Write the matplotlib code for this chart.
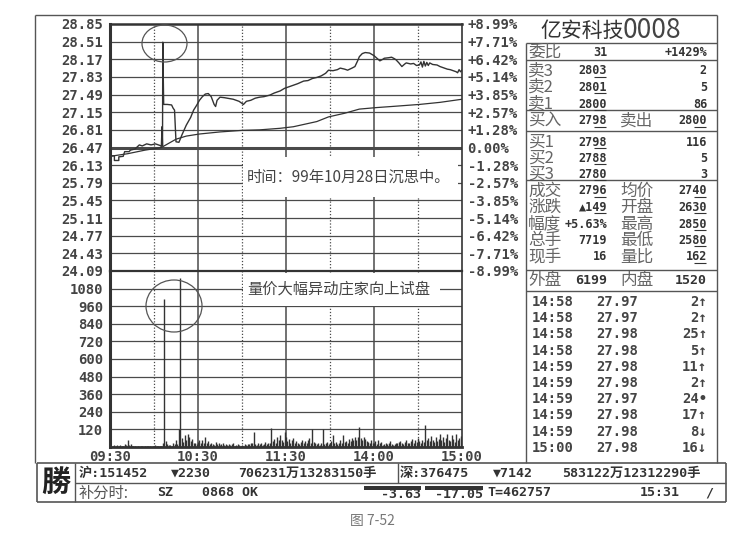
import matplotlib
matplotlib.use('Agg')
import matplotlib.pyplot as plt
from matplotlib.patches import Ellipse, Rectangle

plt.rcParams['font.family'] = ['Noto Sans CJK SC', 'DejaVu Sans']

W, H = 740, 537
INK = '#333333'
GRID = '#4a4a4a'
MONO = 'DejaVu Sans Mono'
MIX = [MONO, 'Noto Sans CJK SC']

# chart data, time = minutes after 09:30 (0..240)
price_levels = [28.85, 28.51, 28.17, 27.83, 27.49, 27.15, 26.81, 26.47,
                26.13, 25.79, 25.45, 25.11, 24.77, 24.43, 24.09]
pct_labels = ['+8.99%', '+7.71%', '+6.42%', '+5.14%', '+3.85%', '+2.57%', '+1.28%', '0.00%',
              '-1.28%', '-2.57%', '-3.85%', '-5.14%', '-6.42%', '-7.71%', '-8.99%']
prev_close = 26.47
vol_levels = [120, 240, 360, 480, 600, 720, 840, 960, 1080]
time_ticks = [0, 60, 120, 180, 240]
time_labels = ['09:30', '10:30', '11:30', '14:00', '15:00']

price_points = [
    (0, 26.31), (3, 26.31), (3, 26.22), (6, 26.22), (6, 26.29), (9, 26.30), (10, 26.39),
    (13, 26.39), (14, 26.42), (17, 26.44), (20, 26.52), (22, 26.50), (25, 26.54), (28, 26.52),
    (31, 26.54), (34, 26.51), (35, 26.49), (35.5, 26.87), (35.8, 26.50), (36, 28.50),
    (36.2, 28.05), (36.6, 27.30), (39, 27.30), (42, 27.29), (43, 27.23), (44, 27.19),
    (45, 26.58), (47, 26.57), (49, 26.71), (52, 26.90), (55, 27.05), (57, 27.19), (59, 27.28),
    (61, 27.38), (63, 27.45), (65, 27.50), (67, 27.51), (69, 27.45), (71, 27.30), (72, 27.26),
    (73, 27.38), (75, 27.44), (78, 27.43), (80, 27.42), (84, 27.40), (88, 27.36), (90, 27.32),
    (91, 27.30), (93, 27.36), (96, 27.38), (99, 27.42), (102, 27.44), (105, 27.45),
    (109, 27.48), (112, 27.52), (116, 27.56), (119, 27.61), (122, 27.64), (125, 27.67),
    (128, 27.70), (132, 27.75), (135, 27.76), (138, 27.80), (141, 27.82), (144, 27.85),
    (147, 27.90), (149, 27.96), (152, 27.95), (155, 27.97), (157, 28.00), (160, 27.98),
    (162, 27.96), (165, 28.00), (167, 28.03), (169, 28.15), (170, 28.22), (172, 28.28),
    (174, 28.30), (177, 28.29), (180, 28.24), (182, 28.19), (184, 28.14), (186, 28.17),
    (187, 28.19), (190, 28.20), (192, 28.21), (194, 28.18), (195, 28.16), (197, 28.10),
    (199, 28.03), (201, 28.08), (202, 28.10), (205, 28.08), (207, 28.09), (209, 28.05),
    (211, 28.06), (212, 28.12), (213, 28.02), (214, 28.13), (215, 28.04), (216, 28.11),
    (217, 28.05), (218, 28.10), (220, 28.07), (223, 28.06), (225, 28.03), (228, 28.00),
    (230, 27.98), (232, 27.97), (234, 27.95), (236, 27.93), (237, 27.91), (238, 27.97),
    (239, 27.93), (240, 27.96),
]
avg_points = [
    (0, 26.30), (12, 26.35), (24, 26.42), (35, 26.47), (40, 26.55), (45, 26.63), (52, 26.69),
    (61, 26.73), (75, 26.77), (90, 26.80), (102, 26.81), (116, 26.84), (125, 26.87),
    (141, 26.97), (149, 27.06), (160, 27.13), (170, 27.21), (182, 27.24), (192, 27.26),
    (211, 27.30), (225, 27.34), (240, 27.40),
]
volume = [
    5, 3, 4, 12, 10, 14, 8, 12, 4, 6, 18, 16, 46, 14, 18, 6, 4, 5, 3, 4,
    3, 5, 4, 3, 6, 4, 8, 5, 3, 4, 6, 12, 5, 8, 6, 10, 30, 1010, 40, 20,
    12, 15, 8, 30, 22, 50, 20, 120, 1150, 60, 35, 80, 45, 92, 70, 40, 55, 30, 25, 20,
    35, 50, 28, 45, 30, 70, 25, 40, 18, 30, 22, 15, 35, 20, 28, 12, 18, 25, 15, 20,
    15, 22, 12, 18, 25, 10, 15, 20, 12, 8, 15, 10, 20, 14, 22, 18, 30, 25, 104, 20,
    15, 28, 18, 25, 12, 20, 35, 22, 30, 25, 127, 40, 55, 30, 65, 45, 80, 50, 35, 104,
    70, 40, 55, 30, 45, 60, 25, 40, 30, 20, 35, 50, 28, 40, 30, 45, 60, 25, 120, 35,
    30, 20, 25, 15, 30, 120, 20, 25, 35, 18, 30, 40, 80, 25, 35, 20, 30, 45, 28, 80,
    35, 40, 25, 55, 40, 60, 45, 70, 50, 65, 138, 60, 45, 70, 55, 40, 35, 30, 50, 25,
    30, 40, 20, 45, 25, 35, 15, 20, 30, 18, 25, 40, 22, 15, 20, 30, 25, 35, 40, 28,
    20, 35, 45, 30, 25, 40, 55, 30, 45, 35, 60, 40, 30, 50, 35, 150, 45, 60, 40, 75,
    50, 35, 65, 40, 55, 90, 45, 70, 35, 60, 92, 50, 40, 85, 55, 35, 90, 45, 60, 75,
    40,
]

# quote panel
title_name = '亿安科技'
title_code = '0008'
ratio_row = ('委比', '31', '+1429%')
ask_rows = [('卖3', '2803', '2'), ('卖2', '2801', '5'), ('卖1', '2800', '86')]
bidask_row = ('买入', '2798', '卖出', '2800')
bid_rows = [('买1', '2798', '116'), ('买2', '2788', '5'), ('买3', '2780', '3')]
stat_rows = [('成交', '2796', '均价', '2740'), ('涨跌', '▲149', '开盘', '2630'),
             ('幅度', '+5.63%', '最高', '2850'), ('总手', '7719', '最低', '2580'),
             ('现手', '16', '量比', '162')]
flow_row = ('外盘', '6199', '内盘', '1520')
tick_times = ['14:58', '14:58', '14:58', '14:58', '14:59', '14:59', '14:59', '14:59', '14:59', '15:00']
tick_prices = ['27.97', '27.97', '27.98', '27.98', '27.98', '27.98', '27.97', '27.98', '27.98', '27.98']
tick_vols = ['2↑', '2↑', '25↑', '5↑', '11↑', '2↑', '24•', '17↑', '8↓', '16↓']


def box(x0, y0, x1, y1):
    return [x0 / W, 1 - y1 / H, (x1 - x0) / W, (y1 - y0) / H]


def pixel_axes(z):
    a = fig.add_axes([0, 0, 1, 1], zorder=z)
    a.set_xlim(0, W)
    a.set_ylim(H, 0)
    a.axis('off')
    return a


def grid_vertical(a):
    for m in (30, 90, 150, 210):
        a.axvline(m, color=GRID, lw=0.9, ls=(0, (1, 1.5)), zorder=1)
    for m in (60, 120, 180):
        a.axvline(m, color=GRID, lw=1.1, zorder=1)


fig = plt.figure(figsize=(7.4, 5.37), dpi=100)
bg = pixel_axes(0)

# price panel
ax = fig.add_axes(box(110, 24, 462, 271), zorder=2)
ax.set_xlim(0, 240)
ax.set_ylim(price_levels[-1], price_levels[0])
for lv in price_levels[1:-1]:
    ax.axhline(lv, color=GRID, lw=2.2 if lv == prev_close else 0.9, zorder=1)
grid_vertical(ax)
ax.plot([p[0] for p in avg_points], [p[1] for p in avg_points], color=INK, lw=0.9, zorder=3)
ax.plot([p[0] for p in price_points], [p[1] for p in price_points], color=INK, lw=1.0, zorder=3)
ax.set_xticks([])
ax.set_yticks(price_levels, [f'{v:.2f}' for v in price_levels])
ax.tick_params(axis='y', length=0, pad=5)
for lab in ax.get_yticklabels():
    lab.set_fontfamily(MONO); lab.set_fontweight('bold'); lab.set_fontsize(10); lab.set_color('#444')
for s in ax.spines.values():
    s.set_color(INK); s.set_linewidth(1.2)
ax.spines['left'].set_linewidth(2.2)
ax.spines['top'].set_linewidth(1.8)

axr = ax.twinx()
axr.set_ylim(price_levels[-1], price_levels[0])
axr.set_yticks(price_levels, pct_labels)
axr.tick_params(axis='y', length=0, pad=4)
for lab in axr.get_yticklabels():
    lab.set_fontfamily(MONO); lab.set_fontweight('bold'); lab.set_fontsize(10); lab.set_color('#444')
for s in axr.spines.values():
    s.set_visible(False)

# volume panel
av = fig.add_axes(box(110, 271, 462, 447), zorder=2)
av.set_xlim(0, 240)
av.set_ylim(0, 1200)
for lv in vol_levels:
    av.axhline(lv, color=GRID, lw=0.9, zorder=1)
grid_vertical(av)
av.vlines(range(len(volume)), 0, volume, color=INK, lw=1.0, zorder=3)
av.set_yticks(vol_levels, [str(v) for v in vol_levels])
av.set_xticks(time_ticks, time_labels)
av.tick_params(length=0, pad=5)
av.tick_params(axis='x', pad=2)
for lab in av.get_yticklabels() + av.get_xticklabels():
    lab.set_fontfamily(MONO); lab.set_fontweight('bold'); lab.set_fontsize(10); lab.set_color('#444')
for s in av.spines.values():
    s.set_color(INK); s.set_linewidth(1.2)
av.spines['left'].set_linewidth(2.2)
av.spines['bottom'].set_linewidth(2.0)
av.spines['top'].set_linewidth(1.6)

# annotations over the chart
ov = pixel_axes(5)
ov.add_patch(Rectangle((243, 157), 215, 40, fc='white', ec='none'))
ov.text(247, 177, '时间：99年10月28日沉思中。', fontsize=11, color='#444', va='center')
ov.add_patch(Rectangle((243, 273), 197, 33, fc='white', ec='none'))
ov.text(247, 289, '量价大幅异动庄家向上试盘', fontsize=11, color='#444', va='center')
ov.add_patch(Ellipse((164.5, 43.5), 45, 37, fill=False, ec='#555', lw=0.9))
ov.add_patch(Ellipse((174, 306), 56, 52, fill=False, ec='#555', lw=0.9))


# frames
def hline(y, x0, x1, lw=1.0, c='#555'):
    bg.plot([x0, x1], [y, y], color=c, lw=lw, solid_capstyle='butt')


def vline(x, y0, y1, lw=1.0):
    bg.plot([x, x], [y0, y1], color='#555', lw=lw, solid_capstyle='butt')


hline(15, 35, 717)
vline(35, 15, 463)
vline(717, 15, 463)
vline(526, 43, 463)
for y in (43, 60, 110, 131, 180, 270, 291):
    hline(y, 526, 717)

# quote panel text
lab_kw = dict(fontsize=12, color='#666', va='center')
num_kw = dict(fontsize=8.5, color=INK, va='center', fontfamily=MONO, fontweight='bold')
CW = 8.5 * 0.602 * 100 / 72  # mono glyph width in px


def price_cell(x_right, y, txt):
    # two last digits carry the small underline used for decimals
    bg.text(x_right, y, txt, ha='right', **num_kw)
    hline(y + 5.5, x_right - 2 * CW + 1, x_right - 1, lw=0.8, c=INK)


bg.text(540, 31, title_name, fontsize=15, color=INK, va='center')
bg.text(623, 31, title_code, fontsize=19, color='#444', va='center')

bg.text(528, 52, ratio_row[0], **lab_kw)
bg.text(607, 52, ratio_row[1], ha='right', **num_kw)
bg.text(707, 52, ratio_row[2], ha='right', **num_kw)
for i, (lab, pr, vol) in enumerate(ask_rows):
    y = 71 + i * 16.5
    bg.text(528, y, lab, **lab_kw)
    price_cell(607, y, pr)
    bg.text(707, y, vol, ha='right', **num_kw)
bg.text(528, 121, bidask_row[0], **lab_kw)
price_cell(607, 121, bidask_row[1])
bg.text(620, 121, bidask_row[2], **lab_kw)
price_cell(707, 121, bidask_row[3])
for i, (lab, pr, vol) in enumerate(bid_rows):
    y = 142 + i * 16
    bg.text(528, y, lab, **lab_kw)
    price_cell(607, y, pr)
    bg.text(707, y, vol, ha='right', **num_kw)
for i, (l1, v1, l2, v2) in enumerate(stat_rows):
    y = 191 + i * 16.5
    bg.text(528, y, l1, **lab_kw)
    if l1 in ('成交', '涨跌'):
        price_cell(607, y, v1)
    else:
        bg.text(607, y, v1, ha='right', **num_kw)
    bg.text(620, y, l2, **lab_kw)
    price_cell(707, y, v2)
flow_kw = dict(num_kw, fontsize=9.5)
bg.text(528, 281, flow_row[0], **lab_kw)
bg.text(607, 281, flow_row[1], ha='right', **flow_kw)
bg.text(620, 281, flow_row[2], **lab_kw)
bg.text(707, 281, flow_row[3], ha='right', **flow_kw)
tick_kw = dict(fontsize=10, color='#444', va='center', fontfamily=MONO, fontweight='bold')
for i in range(len(tick_times)):
    y = 302 + i * 16.2
    bg.text(532, y, tick_times[i], **tick_kw)
    bg.text(638, y, tick_prices[i], ha='right', **tick_kw)
    bg.text(707, y, tick_vols[i], ha='right', **tick_kw)

# status bar
hline(463, 37, 726, 1.2)
hline(502, 37, 726, 1.2)
vline(37, 463, 502, 1.2)
vline(726, 463, 502, 1.2)
vline(75, 463, 502)
hline(483, 75, 726)
vline(398, 463, 483)
bg.text(56, 483, '勝', fontsize=21, fontweight='bold', color='#222', ha='center', va='center')
bar_kw = dict(fontsize=9.5, color=INK, va='center', family=MIX, fontweight='bold')
bg.text(79, 473, '沪:151452', **bar_kw)
bg.text(171, 473, '▼2230', **bar_kw)
bg.text(238, 473, '706231万13283150手', **bar_kw)
bg.text(400, 473, '深:376475', **bar_kw)
bg.text(493, 473, '▼7142', **bar_kw)
bg.text(562, 473, '583122万12312290手', **bar_kw)
bg.text(79, 493, '补分时:', fontsize=11, color='#555', va='center')
bg.text(157, 493, 'SZ', **bar_kw)
bg.text(202, 493, '0868 OK', **bar_kw)
bg.add_patch(Rectangle((364, 486), 57, 3.5, fc='#333', ec='none'))
bg.add_patch(Rectangle((425, 486), 58, 3.5, fc='#333', ec='none'))
bg.text(421, 495, '-3.63', ha='right', **bar_kw)
bg.text(483, 495, '-17.05', ha='right', **bar_kw)
bg.text(487, 493, 'T=462757', **bar_kw)
bg.text(640, 493, '15:31', **bar_kw)
bg.text(705, 493, '/', **bar_kw)

bg.text(372, 521, '图 7-52', fontsize=10, color='#777', ha='center', va='center')

fig.savefig('out.png', dpi=100, facecolor='white')
